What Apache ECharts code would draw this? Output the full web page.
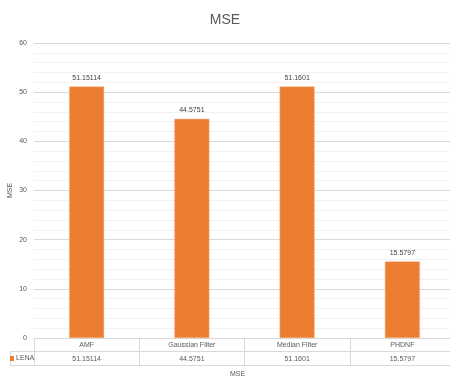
<!DOCTYPE html>
<html>
<head>
<meta charset="utf-8">
<script src="https://cdn.jsdelivr.net/npm/echarts@6/dist/echarts.min.js"></script>
<style>
  html, body { margin: 0; padding: 0; background: #fff; }
  #chart { width: 450px; height: 379px; }
</style>
</head>
<body>
<div id="chart"></div>
<script>
// Filters compared on the LENA image
const categories = ['AMF', 'Gaussian Filter', 'Median Filter', 'PHDNF'];
const seriesName = 'LENA';
const mseValues = [51.15114, 44.5751, 51.1601, 15.5797];
const mseLabels = ['51.15114', '44.5751', '51.1601', '15.5797'];
const yTicks = { min: 0, max: 60, interval: 10 };

const FONT = '"Liberation Sans Narrow", "Liberation Sans", Arial, sans-serif';
const TEXT = '#595959';
const GRID_LINE = '#d9d9d9';

const chart = echarts.init(document.getElementById('chart'));

chart.setOption({
  animation: false,
  backgroundColor: '#ffffff',
  textStyle: { fontFamily: FONT },
  title: {
    text: 'MSE',
    left: 'center',
    top: 8,
    textStyle: { fontFamily: FONT, fontSize: 14, fontWeight: 'normal', color: TEXT }
  },
  legend: {
    data: [seriesName],
    left: 10,
    top: 355,
    icon: 'rect',
    itemWidth: 4,
    itemHeight: 5,
    itemGap: 2,
    padding: 0,
    itemStyle: { borderWidth: 0 },
    textStyle: { fontFamily: FONT, fontSize: 7, color: TEXT, padding: [0, 0, 0, -3] }
  },
  grid: { left: 34, top: 43, width: 421, height: 295, containLabel: false, outerBoundsMode: 'none' },
  xAxis: {
    type: 'category',
    data: categories,
    name: 'MSE',
    nameLocation: 'middle',
    nameGap: 33,
    nameMoveOverlap: false,
    nameTextStyle: { fontFamily: FONT, fontSize: 7, color: TEXT, padding: [0, 14, 0, 0] },
    axisLine: { lineStyle: { color: GRID_LINE, width: 1 } },
    axisTick: { show: true, alignWithLabel: false, length: 28, lineStyle: { color: GRID_LINE } },
    axisLabel: {
      margin: 1,
      interval: 0,
      hideOverlap: false,
      formatter: function (value, index) {
        return '{a|' + value + '}\n{b|' + mseLabels[index] + '}';
      },
      rich: {
        a: { fontFamily: FONT, fontSize: 7, color: TEXT, height: 13, lineHeight: 13 },
        b: { fontFamily: FONT, fontSize: 7, color: TEXT, height: 15, lineHeight: 15 }
      }
    }
  },
  yAxis: {
    type: 'value',
    min: yTicks.min,
    max: yTicks.max,
    interval: yTicks.interval,
    name: 'MSE',
    nameLocation: 'middle',
    nameGap: 20,
    nameMoveOverlap: false,
    nameRotate: 90,
    nameTextStyle: { fontFamily: FONT, fontSize: 7, color: TEXT },
    axisLine: { show: false },
    axisTick: { show: false },
    axisLabel: { fontFamily: FONT, fontSize: 7, color: TEXT, margin: 7 },
    splitLine: { lineStyle: { color: GRID_LINE, width: 1 } },
    minorTick: { show: false, splitNumber: 5 },
    minorSplitLine: { show: true, lineStyle: { color: '#f2f2f2', width: 1 } }
  },
  series: [{
    name: seriesName,
    type: 'bar',
    data: mseValues,
    barWidth: 35,
    itemStyle: { color: '#ED7D31', borderColor: '#f4b183', borderWidth: 0.5 },
    label: {
      show: true,
      position: 'top',
      distance: 5,
      fontFamily: FONT,
      fontSize: 7,
      color: '#404040',
      formatter: function (p) { return mseLabels[p.dataIndex]; }
    }
  }],
  graphic: [
    // data table row borders
    { type: 'line', shape: { x1: 10, y1: 351.5, x2: 450, y2: 351.5 }, style: { stroke: GRID_LINE, lineWidth: 1 }, silent: true },
    { type: 'line', shape: { x1: 10, y1: 365.5, x2: 450, y2: 365.5 }, style: { stroke: GRID_LINE, lineWidth: 1 }, silent: true },
    { type: 'line', shape: { x1: 10.5, y1: 351, x2: 10.5, y2: 366 }, style: { stroke: GRID_LINE, lineWidth: 1 }, silent: true }
  ]
});
</script>
</body>
</html>
